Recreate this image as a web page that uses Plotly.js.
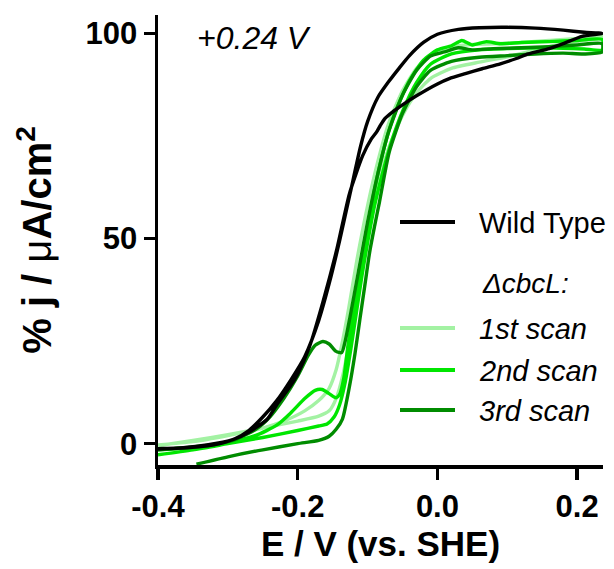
<!DOCTYPE html>
<html>
<head>
<meta charset="utf-8">
<script src="https://cdn.plot.ly/plotly-3.0.1.min.js"></script>
<style>html,body{margin:0;padding:0;background:#fff;}#chart{width:614px;height:569px;}</style>
</head>
<body>
<div id="chart"></div>
<script>
// Wild Type: forward (outer) branch then reverse (inner) branch
const wtX = [-0.40,-0.36,-0.32,-0.29,-0.27,-0.25,-0.23,-0.21,-0.19,-0.17,-0.155,-0.14,-0.125,-0.11,-0.10,-0.085,-0.07,-0.055,-0.04,-0.02,0.0,0.03,0.06,0.10,0.14,0.18,0.21,0.236,
  0.207,0.18,0.16,0.13,0.113,0.09,0.064,0.04,0.017,0.0,-0.03,-0.05,-0.064,-0.075,-0.082,-0.087,-0.095,-0.107,-0.126,-0.144,-0.164,-0.183,-0.20,-0.211,-0.23,-0.244,-0.27,-0.293,-0.33,-0.364,-0.40];
const wtY = [-1.2,-1.0,-0.3,1.2,3.2,6.5,10.5,15.5,21.2,30,39,49.5,61,72.5,78.5,84.5,88.2,91.5,94.6,97.8,99.8,101,101.4,101.5,101.3,100.8,100.3,100,
  99.3,97.5,96.3,95,93.9,92.6,91.4,90.2,89,87.7,84.8,82.6,80.9,79.3,77.5,76,74.2,70.2,60.9,47.4,34.5,23.7,17,13.9,9.5,5.9,2.8,1.0,-0.3,-1.0,-1.3];

// ΔcbcL 1st scan
const s1X = [-0.40,-0.35,-0.30,-0.25,-0.20,-0.17,-0.155,-0.145,-0.135,-0.125,-0.115,-0.105,-0.095,-0.085,-0.07,-0.05,-0.03,-0.01,0.02,0.06,0.10,0.14,0.18,0.21,0.236,
  0.236,0.20,0.16,0.12,0.08,0.04,0.01,-0.01,-0.03,-0.05,-0.07,-0.085,-0.10,-0.115,-0.127,-0.137,-0.145,-0.155,-0.17,-0.19,-0.22,-0.25,-0.30,-0.35,-0.40];
const s1Y = [-0.5,0.8,2.2,3.8,5.5,6.7,8,11,17,26,36,46,55,63,72,80,85.5,89,91.5,93,94.3,96,97.5,98.3,99,
  99.5,98.8,98.3,97.8,97.5,97.2,96.3,94.8,91.5,86,78,69,58,45,33,24,18,13.5,10.5,8,5.5,3.8,2,0.5,-0.3];

// ΔcbcL 2nd scan
const s2X = [-0.40,-0.35,-0.30,-0.25,-0.20,-0.17,-0.158,-0.148,-0.14,-0.132,-0.124,-0.116,-0.108,-0.10,-0.09,-0.08,-0.065,-0.05,-0.03,-0.01,0.02,0.06,0.10,0.14,0.18,0.21,0.236,
  0.236,0.20,0.16,0.12,0.09,0.07,0.05,0.035,0.02,0.0,-0.02,-0.04,-0.06,-0.075,-0.09,-0.105,-0.118,-0.128,-0.134,-0.14,-0.145,-0.155,-0.165,-0.175,-0.19,-0.21,-0.23,-0.26,-0.30,-0.35,-0.40];
const s2Y = [-2.7,-1.5,0,1.5,3.2,4.3,4.8,6.5,9.5,15,23,32,41,49,58,65,74,81,88,92.5,95,96,96.3,96.5,96.4,96.2,96,
  98.5,98.3,98,97.8,97.5,98,97.2,98.3,97,96,93.5,88.5,81,73,62,48,35,24,16,12,11.2,12.2,13.2,13,11,7.5,4.5,2,0.3,-0.8,-1.5];

// ΔcbcL 3rd scan
const s3X = [-0.345,-0.30,-0.25,-0.20,-0.17,-0.155,-0.145,-0.136,-0.126,-0.118,-0.111,-0.104,-0.097,-0.09,-0.083,-0.069,-0.05,-0.03,-0.01,0.02,0.06,0.10,0.14,0.18,0.21,0.236,
  0.236,0.20,0.16,0.12,0.08,0.05,0.03,0.01,-0.01,-0.03,-0.05,-0.07,-0.085,-0.10,-0.113,-0.125,-0.132,-0.137,-0.145,-0.155,-0.164,-0.175,-0.185,-0.20,-0.22,-0.24,-0.26,-0.29,-0.33,-0.40];
const s3Y = [-5.0,-3.2,-1.5,0,0.8,1.8,3.5,6,13.9,22,30.3,38.5,46.7,53,58.9,71.1,80.5,87,91,93.2,94.2,94.6,95,95.2,95,95.5,
  97.5,97.2,96.8,96.5,96.3,96,96.5,95.5,94.5,91,85,76,66,54,42,31,25,22.2,22.5,24.3,24.9,24,21.5,16.5,11,6.5,3.5,1.0,-0.5,-1.5];

const seriesNames = ['1st scan','2nd scan','3rd scan','Wild Type'];
const seriesColors = ['#a3f2a3','#00e600','#008c00','#000000'];
const yTicks = [0,50,100];
const xTicks = [-0.4,-0.2,0.0,0.2];

const allX = [s1X,s2X,s3X,wtX];
const allY = [s1Y,s2Y,s3Y,wtY];
const traces = allX.map((xs,i)=>({
  x: xs, y: allY[i], type:'scatter', mode:'lines', name: seriesNames[i],
  line:{color:seriesColors[i], width:3.4, shape:'spline', smoothing:0.6},
  showlegend:false, hoverinfo:'skip'
}));

const legRows = [
  {name:'Wild Type', y:222, color:'#000000', italic:false},
  {name:'1st scan', y:328, color:seriesColors[0], italic:true},
  {name:'2nd scan', y:370, color:seriesColors[1], italic:true},
  {name:'3rd scan', y:410, color:seriesColors[2], italic:true}
];
const plotTop = 15, plotH = 569-15-104;
const pyToPaper = py => 1 - (py - plotTop)/plotH;
const pxToPaper = px => (px - 158)/(614-158-11);
const FONT = 'Arial, Liberation Sans, sans-serif';

const shapes = legRows.map(r=>({
  type:'line', xref:'paper', yref:'paper',
  x0: pxToPaper(400), x1: pxToPaper(455), y0: pyToPaper(r.y), y1: pyToPaper(r.y),
  line:{color:r.color, width:4}
}));
const annotations = legRows.map(r=>({
  xref:'paper', yref:'paper', x: pxToPaper(477), y: pyToPaper(r.y+1), xanchor:'left', yanchor:'middle',
  text: r.italic ? '<i>'+r.name+'</i>' : r.name, showarrow:false,
  font:{family:FONT, size:29, color:'#000'}
}));
annotations.push({
  xref:'paper', yref:'paper', x: pxToPaper(480), y: pyToPaper(283), xanchor:'left', yanchor:'middle',
  text:'<i>ΔcbcL:</i>', showarrow:false,
  font:{family:FONT, size:28, color:'#000'}
});
annotations.push({
  xref:'paper', yref:'paper', x: pxToPaper(195), y: pyToPaper(38), xanchor:'left', yanchor:'middle',
  text:'<i>+0.24 V</i>', showarrow:false,
  font:{family:FONT, size:32, color:'#000'}
});

const layout = {
  width:614, height:569,
  margin:{l:158, r:11, t:15, b:104},
  paper_bgcolor:'#fff', plot_bgcolor:'#fff',
  showlegend:false,
  font:{family:FONT, color:'#000'},
  xaxis:{
    range:[-0.4,0.237], showgrid:false, zeroline:false,
    showline:true, linecolor:'#000', linewidth:3.5,
    ticks:'outside', ticklen:11, tickwidth:3.5, tickcolor:'#000',
    tickvals:xTicks, ticktext:xTicks.map(v=>v.toFixed(1)),
    tickfont:{size:31, weight:'bold', family:FONT},
    title:{text:'<b>E / V (vs. SHE)</b>', font:{size:35, family:FONT}, standoff:8}
  },
  yaxis:{
    range:[-5.2,104.5], showgrid:false, zeroline:false,
    showline:true, linecolor:'#000', linewidth:3.5,
    ticks:'outside', ticklen:11, tickwidth:3.5, tickcolor:'#000',
    tickvals:yTicks, ticktext:yTicks.map(String),
    tickfont:{size:31, weight:'bold', family:FONT},
    title:{text:'<b>% j / </b>μ<b>A/cm<sup>2</sup></b>', font:{size:40, family:FONT}, standoff:22}
  },
  shapes: shapes,
  annotations: annotations
};

Plotly.newPlot('chart', traces, layout, {staticPlot:true, displayModeBar:false});
</script>
</body>
</html>
